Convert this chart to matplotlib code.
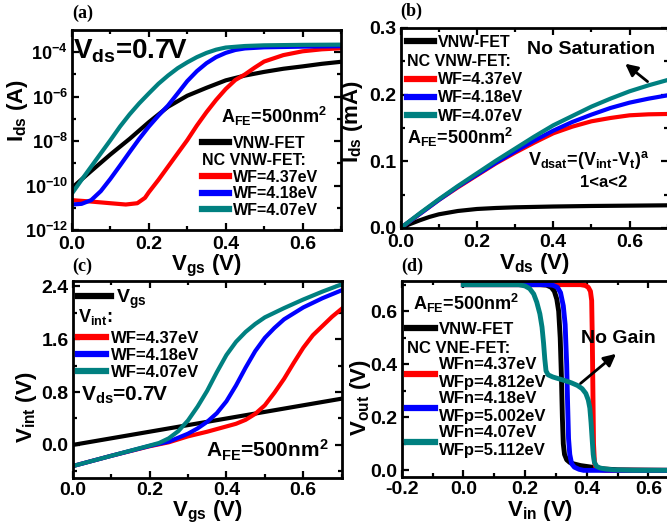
import matplotlib
matplotlib.use("Agg")
import matplotlib.pyplot as plt
from matplotlib.ticker import MultipleLocator, FixedLocator, NullFormatter

plt.rcParams['font.family'] = ['Liberation Sans', 'DejaVu Sans']
plt.rcParams['font.weight'] = 'bold'
plt.rcParams['axes.labelweight'] = 'bold'
plt.rcParams['mathtext.fontset'] = 'custom'
plt.rcParams['mathtext.rm'] = 'Liberation Sans:bold'
plt.rcParams['mathtext.it'] = 'Liberation Sans:bold'
plt.rcParams['mathtext.bf'] = 'Liberation Sans:bold'

RED, BLUE, TEAL, BLACK = '#ff0000', '#0000ff', '#008080', '#000000'

# ---------------- (a) Ids-Vgs (log) ----------------
vgs_a_vnw = [0.0, 0.05, 0.1, 0.15, 0.2, 0.25, 0.3, 0.35, 0.4, 0.45, 0.5, 0.55, 0.6, 0.65, 0.7]
ids_a_vnw = [7.9e-11, 4.5e-10, 2.5e-9, 1.26e-8, 7.1e-8, 3.5e-7, 1.1e-6, 2.5e-6, 5.4e-6, 8.9e-6,
             1.3e-5, 1.8e-5, 2.3e-5, 3.0e-5, 3.7e-5]
vgs_a_437 = [0.0, 0.05, 0.1, 0.14, 0.17, 0.19, 0.2, 0.225, 0.25, 0.275, 0.3, 0.325, 0.35, 0.375,
             0.4, 0.425, 0.45, 0.475, 0.5, 0.55, 0.6, 0.65, 0.7]
ids_a_437 = [2.2e-11, 1.9e-11, 1.6e-11, 1.4e-11, 1.6e-11, 2.8e-11, 5.0e-11, 1.8e-10, 7.1e-10,
             2.8e-9, 1.1e-8, 5.0e-8, 2.0e-7, 7.1e-7, 2.2e-6, 5.6e-6, 1.0e-5, 2.0e-5, 3.8e-5,
             7.4e-5, 1.1e-4, 1.35e-4, 1.5e-4]
vgs_a_418 = [0.0, 0.025, 0.05, 0.075, 0.1, 0.125, 0.15, 0.175, 0.2, 0.225, 0.25, 0.275, 0.3,
             0.325, 0.35, 0.375, 0.4, 0.425, 0.45, 0.5, 0.6, 0.7]
ids_a_418 = [1.4e-11, 1.5e-11, 2.2e-11, 5.6e-11, 2.0e-10, 7.9e-10, 3.2e-9, 1.26e-8, 4.5e-8,
             1.4e-7, 4.0e-7, 1.4e-6, 5.0e-6, 1.4e-5, 3.2e-5, 6.0e-5, 9.3e-5, 1.26e-4, 1.48e-4,
             1.66e-4, 1.78e-4, 1.86e-4]
vgs_a_407 = [0.0, 0.025, 0.05, 0.075, 0.1, 0.125, 0.15, 0.175, 0.2, 0.225, 0.25, 0.275, 0.3,
             0.325, 0.35, 0.375, 0.4, 0.45, 0.5, 0.6, 0.7]
ids_a_407 = [4.4e-11, 1.8e-10, 7.1e-10, 2.8e-9, 1.1e-8, 4.5e-8, 1.6e-7, 5.0e-7, 1.4e-6, 3.8e-6,
             8.9e-6, 1.9e-5, 3.5e-5, 6.0e-5, 9.3e-5, 1.3e-4, 1.62e-4, 1.9e-4, 2.04e-4, 2.14e-4,
             2.19e-4]

# ---------------- (b) Ids-Vds (linear, mA) ----------------
vds_b = [0.0, 0.05, 0.1, 0.15, 0.2, 0.25, 0.3, 0.35, 0.4, 0.45, 0.5, 0.55, 0.6, 0.65, 0.7]
ids_b_437 = [0.0, 0.021, 0.042, 0.061, 0.079, 0.097, 0.113, 0.128, 0.142, 0.152, 0.160, 0.165,
             0.169, 0.1705, 0.171]
ids_b_418 = [0.0, 0.021, 0.042, 0.062, 0.080, 0.098, 0.115, 0.131, 0.146, 0.159, 0.170, 0.180,
             0.188, 0.194, 0.199]
ids_b_407 = [0.0, 0.022, 0.043, 0.063, 0.082, 0.101, 0.119, 0.137, 0.154, 0.168, 0.182, 0.194,
             0.205, 0.214, 0.222]
vds_b_vnw = [0.0, 0.025, 0.05, 0.075, 0.1, 0.15, 0.2, 0.25, 0.3, 0.4, 0.5, 0.6, 0.7]
ids_b_vnw = [0.0, 0.006, 0.0115, 0.0165, 0.0205, 0.0255, 0.0285, 0.030, 0.031, 0.0322, 0.033,
             0.0335, 0.034]

# ---------------- (c) Vint-Vgs ----------------
vgs_c_line = [0.0, 0.7]
vgs_c_val = [0.0, 0.7]
vgs_c_437 = [0.0, 0.1, 0.2, 0.25, 0.3, 0.35, 0.4, 0.425, 0.45, 0.475, 0.5, 0.525, 0.55, 0.575,
             0.6, 0.625, 0.65, 0.675, 0.7]
vint_437 = [-0.32, -0.165, -0.02, 0.04, 0.13, 0.20, 0.28, 0.32, 0.38, 0.47, 0.60, 0.79, 1.00,
            1.24, 1.47, 1.66, 1.80, 1.94, 2.06]
vgs_c_418 = [0.0, 0.1, 0.2, 0.25, 0.3, 0.325, 0.35, 0.375, 0.4, 0.425, 0.45, 0.475, 0.5, 0.525,
             0.55, 0.6, 0.65, 0.7]
vint_418 = [-0.32, -0.165, -0.015, 0.05, 0.17, 0.25, 0.35, 0.48, 0.66, 0.90, 1.17, 1.42, 1.62,
            1.77, 1.90, 2.08, 2.22, 2.34]
vgs_c_407 = [0.0, 0.1, 0.2, 0.225, 0.25, 0.275, 0.3, 0.325, 0.35, 0.375, 0.4, 0.425, 0.45, 0.475,
             0.5, 0.55, 0.6, 0.65, 0.7]
vint_407 = [-0.32, -0.165, -0.01, 0.03, 0.10, 0.21, 0.37, 0.58, 0.82, 1.10, 1.36, 1.56, 1.71,
            1.83, 1.93, 2.07, 2.20, 2.32, 2.43]

# ---------------- (d) inverter VTC ----------------
vin_vnw = [0.0, 0.25, 0.27, 0.285, 0.295, 0.303, 0.309, 0.314, 0.318, 0.321, 0.324, 0.328, 0.335,
           0.345, 0.356, 0.38, 0.416, 0.45, 0.5, 0.7]
vout_vnw = [0.70, 0.70, 0.698, 0.69, 0.675, 0.645, 0.60, 0.50, 0.35, 0.20, 0.10, 0.06, 0.04, 0.03,
            0.025, 0.018, 0.012, 0.006, 0.002, 0.0]
vin_418 = [0.0, 0.27, 0.29, 0.305, 0.315, 0.324, 0.33, 0.335, 0.338, 0.341, 0.345, 0.351, 0.36,
           0.375, 0.39, 0.7]
vout_418 = [0.70, 0.70, 0.698, 0.69, 0.67, 0.62, 0.55, 0.40, 0.25, 0.12, 0.06, 0.025, 0.012,
            0.004, 0.0, 0.0]
vin_437 = [0.0, 0.38, 0.395, 0.405, 0.412, 0.416, 0.418, 0.42, 0.422, 0.425, 0.43, 0.44, 0.46, 0.7]
vout_437 = [0.70, 0.70, 0.697, 0.69, 0.675, 0.64, 0.50, 0.30, 0.10, 0.03, 0.01, 0.003, 0.0, 0.0]
vin_407 = [0.0, 0.18, 0.2, 0.215, 0.228, 0.238, 0.248, 0.255, 0.26, 0.264, 0.268, 0.275, 0.29,
           0.31, 0.33, 0.35, 0.37, 0.385, 0.397, 0.405, 0.41, 0.414, 0.418, 0.421, 0.425, 0.432,
           0.443, 0.46, 0.49, 0.55, 0.7]
vout_407 = [0.70, 0.70, 0.695, 0.685, 0.665, 0.634, 0.59, 0.54, 0.48, 0.42, 0.375, 0.36, 0.352,
            0.345, 0.338, 0.33, 0.32, 0.308, 0.29, 0.265, 0.235, 0.18, 0.11, 0.06, 0.03, 0.015,
            0.009, 0.005, 0.002, 0.0, 0.0]

LW = 3.0
TICK_FS = 14
LABEL_FS = 16
LEG_FS = 11.5

LEG_KW = dict(loc='upper left', frameon=False, handlelength=1.7, handletextpad=0.25,
              borderpad=0, borderaxespad=0)


def style(ax):
    for s in ax.spines.values():
        s.set_linewidth(2)
    ax.tick_params(which='both', direction='in', top=True, right=True, width=1.6,
                   labelsize=TICK_FS, pad=3)
    ax.tick_params(which='major', length=5)
    ax.tick_params(which='minor', length=3)


def thick(lg):
    for ln in lg.get_lines():
        ln.set_linewidth(4.5)


def legends(ax, h0, l0, title, hs, ls, x, y1, y2, fs=LEG_FS, spacing=0.12):
    leg1 = ax.legend([h0], [l0], bbox_to_anchor=(x, y1), labelspacing=spacing,
                     prop={'size': fs, 'weight': 'bold'}, **LEG_KW)
    ax.add_artist(leg1)
    leg2 = ax.legend(hs, ls, bbox_to_anchor=(x, y2), title=title, labelspacing=spacing,
                     prop={'size': fs, 'weight': 'bold'},
                     title_fontproperties={'size': fs, 'weight': 'bold'},
                     alignment='left', **LEG_KW)
    thick(leg1)
    thick(leg2)
    return leg2


fig = plt.figure(figsize=(6.67, 5.27), dpi=100)
axA = fig.add_axes([0.1079, 0.5636, 0.4033, 0.3795])
axB = fig.add_axes([0.6007, 0.5674, 0.4003, 0.3795])
axC = fig.add_axes([0.1090, 0.0930, 0.4033, 0.3738])
axD = fig.add_axes([0.6022, 0.0949, 0.4162, 0.3725])

# ----- (a)
hA0, = axA.plot(vgs_a_vnw, ids_a_vnw, color=BLACK, lw=LW)
hA1, = axA.plot(vgs_a_437, ids_a_437, color=RED, lw=LW)
hA2, = axA.plot(vgs_a_418, ids_a_418, color=BLUE, lw=LW)
hA3, = axA.plot(vgs_a_407, ids_a_407, color=TEAL, lw=LW)
axA.set_yscale('log')
axA.set_xlim(0, 0.7)
axA.set_ylim(1e-12, 1e-3)
axA.yaxis.set_major_locator(FixedLocator([1e-12, 1e-10, 1e-8, 1e-6, 1e-4]))
axA.yaxis.set_minor_locator(FixedLocator([1e-11, 1e-9, 1e-7, 1e-5]))
axA.yaxis.set_minor_formatter(NullFormatter())
axA.set_yticklabels([r'$\mathregular{10^{-12}}$', r'$\mathregular{10^{-10}}$',
                     r'$\mathregular{10^{-8}}$', r'$\mathregular{10^{-6}}$',
                     r'$\mathregular{10^{-4}}$'])
axA.xaxis.set_minor_locator(MultipleLocator(0.1))
axA.set_xticks([0.0, 0.2, 0.4, 0.6])
axA.set_xticklabels(['0.0', '0.2', '0.4', '0.6'])
style(axA)
axA.tick_params(axis='y', labelsize=13)
axA.tick_params(axis='x', pad=4.5)
axA.set_xlabel(r'$\mathregular{V_{gs}}$ (V)', fontsize=LABEL_FS, labelpad=0)
axA.set_ylabel(r'$\mathregular{I_{ds}}$ (A)', fontsize=LABEL_FS)
axA.yaxis.set_label_coords(-0.155, 0.6)
axA.text(0.005, 0.895, r'$\mathregular{V_{ds}}$=0.7V', transform=axA.transAxes,
         fontsize=20, va='center', ha='left')
axA.text(0.555, 0.57, r'$\mathregular{A_{FE}}$=500nm$\mathregular{^2}$', transform=axA.transAxes,
         fontsize=13, va='center', ha='left')
legends(axA, hA0, 'VNW-FET', 'NC VNW-FET:', [hA1, hA2, hA3],
        ['WF=4.37eV', 'WF=4.18eV', 'WF=4.07eV'], 0.483, 0.47, 0.385, spacing=0.1)
axA.text(0.0, 1.04, '(a)', transform=axA.transAxes, fontsize=13, fontweight='bold',
         family='Liberation Serif', ha='left', va='bottom')

# ----- (b)
hB0, = axB.plot(vds_b_vnw, ids_b_vnw, color=BLACK, lw=LW)
hB1, = axB.plot(vds_b, ids_b_437, color=RED, lw=LW)
hB2, = axB.plot(vds_b, ids_b_418, color=BLUE, lw=LW)
hB3, = axB.plot(vds_b, ids_b_407, color=TEAL, lw=LW)
axB.set_xlim(0, 0.7)
axB.set_ylim(0, 0.3)
axB.xaxis.set_minor_locator(MultipleLocator(0.1))
axB.yaxis.set_minor_locator(MultipleLocator(0.05))
axB.set_xticks([0.0, 0.2, 0.4, 0.6])
axB.set_xticklabels(['0.0', '0.2', '0.4', '0.6'])
axB.set_yticks([0.0, 0.1, 0.2, 0.3])
axB.set_yticklabels(['0.0', '0.1', '0.2', '0.3'])
style(axB)
axB.tick_params(axis='x', pad=4.5)
axB.set_xlabel(r'$\mathregular{V_{ds}}$ (V)', fontsize=LABEL_FS, labelpad=0)
axB.set_ylabel(r'$\mathregular{I_{ds}}$ (mA)', fontsize=LABEL_FS)
axB.yaxis.set_label_coords(-0.132, 0.53)
legends(axB, hB0, 'VNW-FET', 'NC VNW-FET:', [hB1, hB2, hB3],
        ['WF=4.37eV', 'WF=4.18eV', 'WF=4.07eV'], 0.022, 0.965, 0.87, spacing=0.2)
axB.text(0.022, 0.455, r'$\mathregular{A_{FE}}$=500nm$\mathregular{^2}$', transform=axB.transAxes,
         fontsize=13, va='center', ha='left')
axB.text(0.475, 0.89, 'No Saturation', transform=axB.transAxes, fontsize=14,
         va='center', ha='left')
axB.annotate('', xy=(0.583, 0.249), xytext=(0.653, 0.217),
             arrowprops=dict(arrowstyle='-|>', color='black', lw=2, mutation_scale=18))
axB.text(0.477, 0.34, r'$\mathregular{V_{dsat}}$=($\mathregular{V_{int}}$-$\mathregular{V_t}$)$\mathregular{^a}$',
         transform=axB.transAxes, fontsize=13, va='center', ha='left')
axB.text(0.76, 0.225, '1<a<2', transform=axB.transAxes, fontsize=12, va='center', ha='center')
axB.text(0.0, 1.04, '(b)', transform=axB.transAxes, fontsize=13, fontweight='bold',
         family='Liberation Serif', ha='left', va='bottom')

# ----- (c)
hC0, = axC.plot(vgs_c_line, vgs_c_val, color=BLACK, lw=LW)
hC1, = axC.plot(vgs_c_437, vint_437, color=RED, lw=LW)
hC2, = axC.plot(vgs_c_418, vint_418, color=BLUE, lw=LW)
hC3, = axC.plot(vgs_c_407, vint_407, color=TEAL, lw=LW)
axC.set_xlim(0, 0.7)
axC.set_ylim(-0.5, 2.48)
axC.xaxis.set_minor_locator(MultipleLocator(0.1))
axC.yaxis.set_minor_locator(MultipleLocator(0.4))
axC.set_xticks([0.0, 0.2, 0.4, 0.6])
axC.set_xticklabels(['0.0', '0.2', '0.4', '0.6'])
axC.set_yticks([0.0, 0.8, 1.6, 2.4])
axC.set_yticklabels(['0.0', '0.8', '1.6', '2.4'])
style(axC)
axC.set_xlabel(r'$\mathregular{V_{gs}}$ (V)', fontsize=LABEL_FS, labelpad=0)
axC.set_ylabel(r'$\mathregular{V_{int}}$ (V)', fontsize=LABEL_FS)
axC.yaxis.set_label_coords(-0.125, 0.36)
legC1 = axC.legend([hC0], [r'$\mathregular{V_{gs}}$'], bbox_to_anchor=(0.02, 0.965),
                   prop={'size': 14, 'weight': 'bold'}, **LEG_KW)
thick(legC1)
axC.add_artist(legC1)
axC.text(0.02, 0.815, r'$\mathregular{V_{int}}$:', transform=axC.transAxes,
         fontsize=13, va='center', ha='left')
legC2 = axC.legend([hC1, hC2, hC3], ['WF=4.37eV', 'WF=4.18eV', 'WF=4.07eV'],
                   bbox_to_anchor=(0.02, 0.745), labelspacing=0.12,
                   prop={'size': 12, 'weight': 'bold'}, **LEG_KW)
thick(legC2)
axC.text(0.03, 0.42, r'$\mathregular{V_{ds}}$=0.7V', transform=axC.transAxes,
         fontsize=15, va='center', ha='left')
axC.text(0.495, 0.14, r'$\mathregular{A_{FE}}$=500nm$\mathregular{^2}$', transform=axC.transAxes,
         fontsize=15, va='center', ha='left')
axC.text(0.0, 1.03, '(c)', transform=axC.transAxes, fontsize=13, fontweight='bold',
         family='Liberation Serif', ha='left', va='bottom')

# ----- (d)
hD0, = axD.plot(vin_vnw, vout_vnw, color=BLACK, lw=3.5)
hD1, = axD.plot(vin_437, vout_437, color=RED, lw=3.5)
hD2, = axD.plot(vin_418, vout_418, color=BLUE, lw=3.5)
hD3, = axD.plot(vin_407, vout_407, color=TEAL, lw=3.5)
axD.set_xlim(-0.2, 0.7)
axD.set_ylim(-0.025, 0.715)
axD.xaxis.set_minor_locator(MultipleLocator(0.1))
axD.yaxis.set_minor_locator(MultipleLocator(0.1))
axD.set_xticks([-0.2, 0.0, 0.2, 0.4, 0.6])
axD.set_xticklabels(['-0.2', '0.0', '0.2', '0.4', '0.6'])
axD.set_yticks([0.0, 0.2, 0.4, 0.6])
axD.set_yticklabels(['0.0', '0.2', '0.4', '0.6'])
style(axD)
axD.set_xlabel(r'$\mathregular{V_{in}}$ (V)', fontsize=LABEL_FS, labelpad=0)
axD.set_ylabel(r'$\mathregular{V_{out}}$ (V)', fontsize=LABEL_FS)
axD.yaxis.set_label_coords(-0.105, 0.405)
axD.text(0.04, 0.885, r'$\mathregular{A_{FE}}$=500nm$\mathregular{^2}$', transform=axD.transAxes,
         fontsize=13, va='center', ha='left')
legends(axD, hD0, 'VNW-FET', 'NC VNE-FET:', [hD1, hD2, hD3],
        ['WFn=4.37eV\nWFp=4.812eV', 'WFn=4.18eV\nWFp=5.002eV', 'WFn=4.07eV\nWFp=5.112eV'],
        0.018, 0.79, 0.695, fs=12, spacing=0.1)
axD.text(0.383, 0.4975, 'No Gain', fontsize=14, va='center', ha='left')
axD.annotate('', xy=(0.502, 0.446), xytext=(0.373, 0.321),
             arrowprops=dict(arrowstyle='-|>', color='black', lw=2, mutation_scale=18))
axD.text(0.0, 1.03, '(d)', transform=axD.transAxes, fontsize=13, fontweight='bold',
         family='Liberation Serif', ha='left', va='bottom')

fig.savefig('out.png', dpi=100)
